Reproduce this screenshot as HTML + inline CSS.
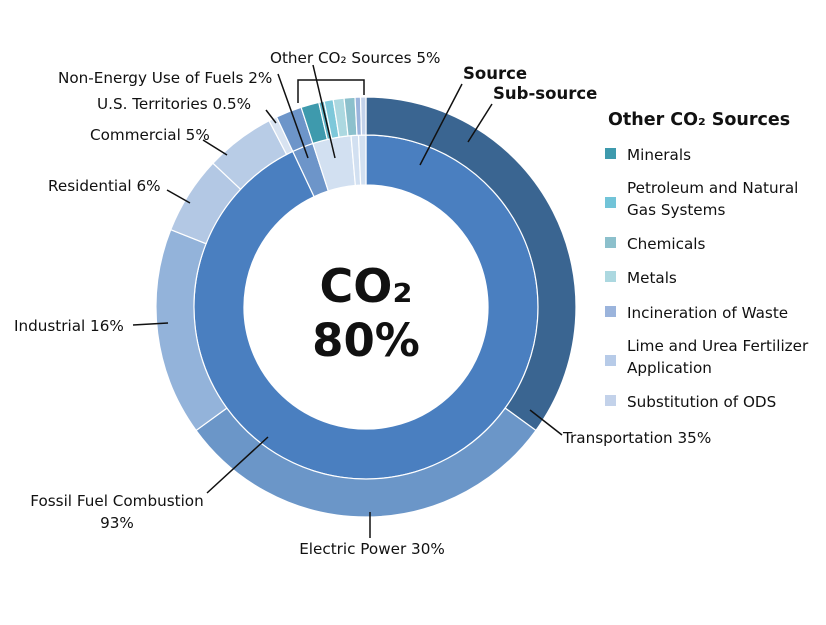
<!DOCTYPE html>
<html><head><meta charset="utf-8"><style>
body{margin:0;background:#fff}
svg text{font-family:"DejaVu Sans","Liberation Sans",sans-serif;fill:#111}
</style></head><body>
<svg id="s" width="826" height="620" viewBox="0 0 826 620" xmlns="http://www.w3.org/2000/svg">
<g id="arcs"></g>
<g stroke="#111" stroke-width="1.5" fill="none">
<line x1="420" y1="165" x2="462" y2="84"/>
<line x1="468" y1="142" x2="492" y2="104"/>
<line x1="530" y1="410" x2="562" y2="435"/>
<line x1="370" y1="512" x2="370" y2="538"/>
<line x1="268" y1="437" x2="207" y2="493"/>
<line x1="133" y1="325" x2="168" y2="323"/>
<line x1="167" y1="190" x2="190" y2="203"/>
<line x1="203" y1="140" x2="227" y2="155"/>
<line x1="266" y1="110" x2="276" y2="123"/>
<line x1="278" y1="74" x2="308" y2="158"/>
<line x1="313" y1="65" x2="335" y2="158"/>
<polyline points="298,103 298,80 364,80 364,95"/>
</g>
<g font-size="15.2">
<text x="463" y="79" font-weight="bold" font-size="16.5">Source</text>
<text x="493" y="99" font-weight="bold" font-size="16.5">Sub-source</text>
<text x="563" y="443">Transportation 35%</text>
<text x="372" y="554" text-anchor="middle">Electric Power 30%</text>
<text x="117" y="506" text-anchor="middle">Fossil Fuel Combustion</text>
<text x="117" y="528" text-anchor="middle">93%</text>
<text x="14" y="331">Industrial 16%</text>
<text x="48" y="191">Residential 6%</text>
<text x="90" y="140">Commercial 5%</text>
<text x="97" y="109">U.S. Territories 0.5%</text>
<text x="58" y="83">Non-Energy Use of Fuels 2%</text>
<text x="270" y="63">Other CO₂ Sources 5%</text>
<text x="608" y="125" font-weight="bold" font-size="17.5">Other CO₂ Sources</text>
<text x="627" y="160">Minerals</text>
<text x="627" y="193">Petroleum and Natural</text>
<text x="627" y="215">Gas Systems</text>
<text x="627" y="249">Chemicals</text>
<text x="627" y="283">Metals</text>
<text x="627" y="318">Incineration of Waste</text>
<text x="627" y="351">Lime and Urea Fertilizer</text>
<text x="627" y="373">Application</text>
<text x="627" y="407">Substitution of ODS</text>
</g>
<rect x="605" y="148" width="11" height="11" fill="#3e9aad"/>
<rect x="605" y="197" width="11" height="11" fill="#72c4d8"/>
<rect x="605" y="237" width="11" height="11" fill="#8cc0cc"/>
<rect x="605" y="271" width="11" height="11" fill="#acd8e0"/>
<rect x="605" y="306" width="11" height="11" fill="#9bb4dc"/>
<rect x="605" y="355" width="11" height="11" fill="#b7cbe8"/>
<rect x="605" y="395" width="11" height="11" fill="#c3d2ea"/>
<text x="366" y="302" text-anchor="middle" font-size="46" font-weight="bold">CO₂</text>
<text x="366" y="356" text-anchor="middle" font-size="45" font-weight="bold">80%</text>
</svg>
<script>
var cx=366,cy=307;
function pt(r,a){a=a*Math.PI/180;return [cx+r*Math.sin(a),cy-r*Math.cos(a)];}
function arc(r0,r1,a0,a1,c){var l=(a1-a0)>180?1:0;var p=pt(r1,a0),q=pt(r1,a1),u=pt(r0,a1),v=pt(r0,a0);
return '<path d="M'+p+' A'+r1+','+r1+' 0 '+l+' 1 '+q+' L'+u+' A'+r0+','+r0+' 0 '+l+' 0 '+v+'Z" fill="'+c+'" stroke="#fff" stroke-width="1.2"/>';}
var h='';
h+=arc(122,172,0,334.8,'#4a7fc0');
h+=arc(122,172,334.8,342,'#6d95c9');
h+=arc(122,172,342,355,'#d2e0f1');
h+=arc(122,172,355,357.5,'#d2e0f1');
h+=arc(122,172,357.5,360,'#d2e0f1');
var o=[[0,126,'#3a6591'],[126,234,'#6b96c8'],[234,291.6,'#93b3da'],[291.6,313.2,'#b3c8e4'],[313.2,332.5,'#b8cce6'],[332.5,334.8,'#d8e3f1'],[334.8,342,'#6d95c9'],
[342,347,'#3e9aad'],[347,348.5,'#5fb3c6'],[348.5,351,'#7dc8da'],[351,354,'#acd8e0'],[354,357,'#8cc0cc'],[357,358.5,'#9bb4dc'],[358.5,360,'#c3d2ea']];
o.forEach(function(s){h+=arc(172,210,s[0],s[1],s[2]);});
document.getElementById('arcs').innerHTML=h;
</script>
</body></html>
